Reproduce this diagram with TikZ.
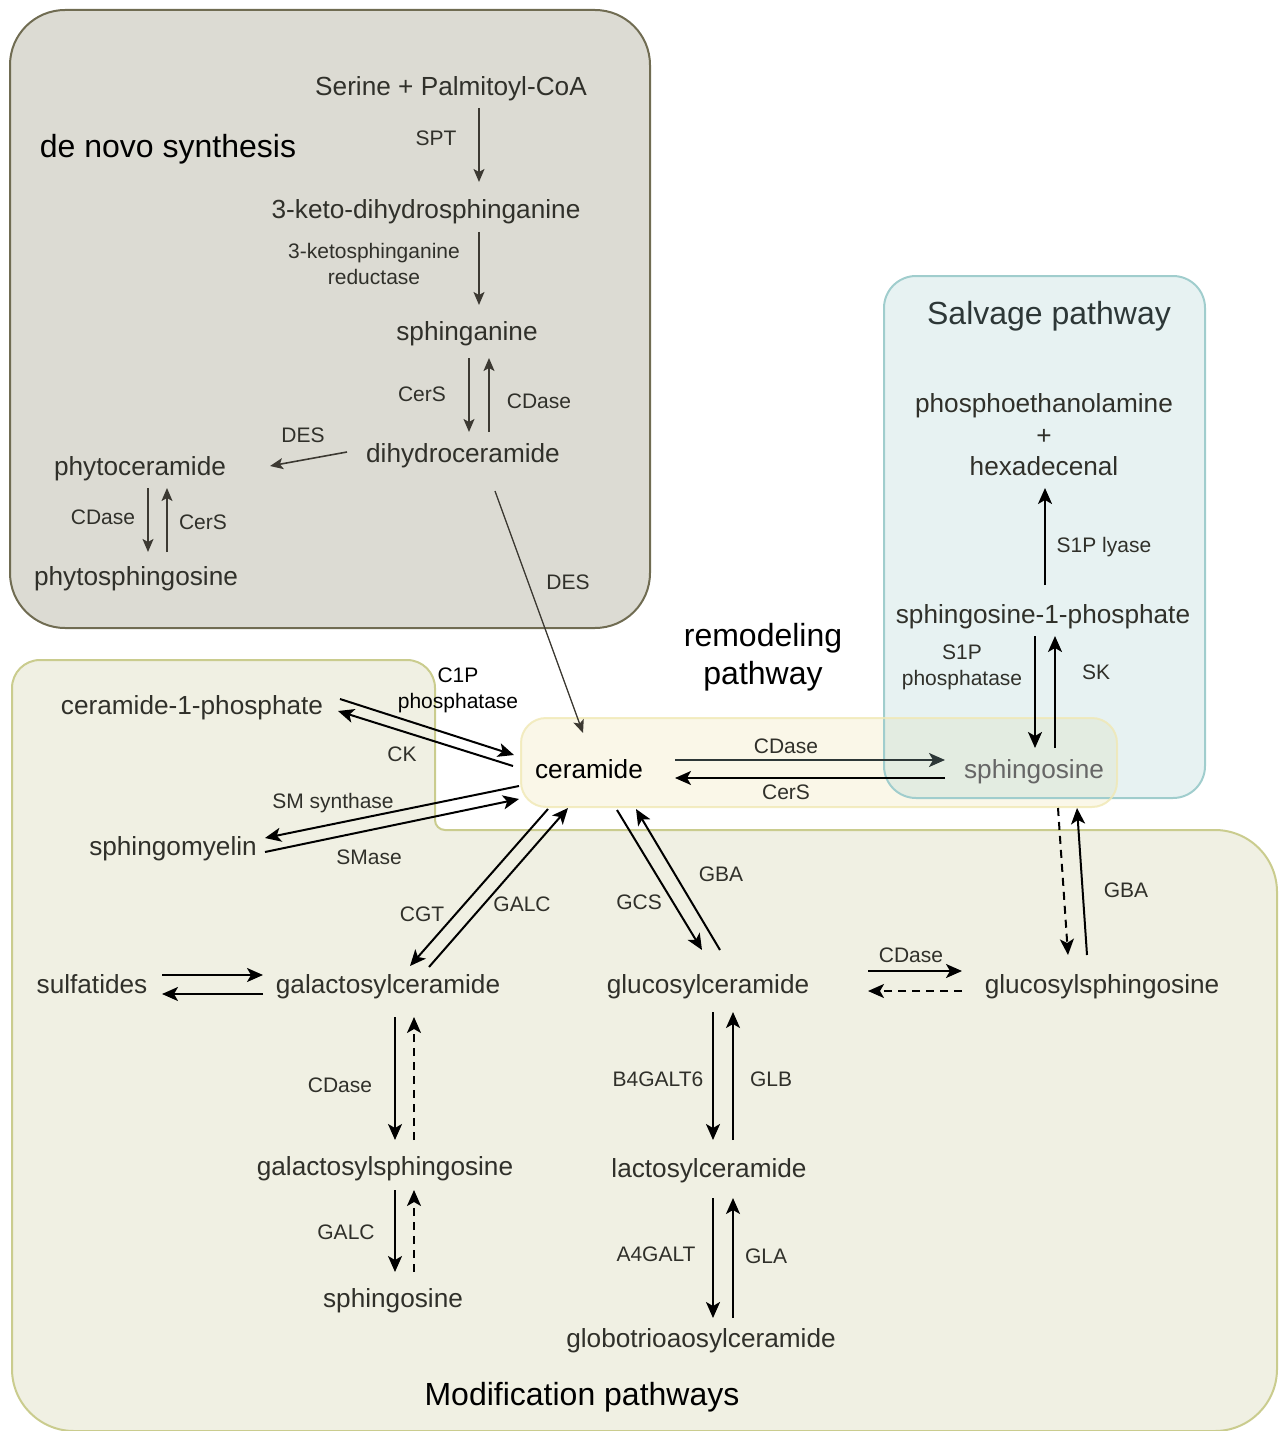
\documentclass[tikz,border=0pt]{standalone}
\usepackage{fontspec}
\setmainfont{Liberation Sans}
\usetikzlibrary{arrows.meta}

\definecolor{novofill}{RGB}{220,219,211}
\definecolor{novoline}{RGB}{112,108,82}
\definecolor{novoink}{RGB}{60,57,50}
\definecolor{modfill}{RGB}{240,240,227}
\definecolor{modline}{RGB}{202,204,142}
\definecolor{salvline}{RGB}{160,205,205}
\definecolor{salvtxt}{RGB}{45,55,55}
\definecolor{cerfill}{RGB}{250,247,232}
\definecolor{cerline}{RGB}{240,232,180}
\definecolor{txt}{RGB}{48,48,42}
\definecolor{faded}{RGB}{102,102,102}

\tikzset{
  molf/.style={font=\fontsize{26.2}{31.5}\selectfont, text=txt, inner sep=0pt},
  mol/.style={molf, text height=19pt, text depth=6pt},
  enz/.style={font=\fontsize{21}{26}\selectfont, text=txt, inner sep=0pt, align=center},
  title/.style={font=\fontsize{32}{38}\selectfont, inner sep=0pt, align=center},
  novobox/.style={fill=novofill, draw=novoline, line width=2pt, rounded corners=55},
  modbox/.style={fill=modfill, draw=modline, line width=2pt},
  salvbox/.style={fill=salvline, fill opacity=0.25, draw=salvline, draw opacity=1, line width=2pt, rounded corners=32},
  arr/.style={->, line width=2pt},
  dsh/.style={arr, dash pattern=on 8pt off 6pt},
  novoarr/.style={->, line width=1.6pt, draw=novoink, >={Stealth[length=13pt,width=11pt,inset=3pt]}},
}

\begin{document}
\begin{tikzpicture}[x=1pt,y=-1pt,>={Stealth[length=16pt,width=14pt,inset=4pt]}]
\useasboundingbox (0,0) rectangle (1278,1431);

% regions
\draw[novobox] (10,10) rectangle (650,628);
\draw[modbox] (640,1431) [rounded corners=62] -- (12,1431) [rounded corners=28] -- (12,660) -- (435,660)
  [rounded corners=10] -- (435,830) [rounded corners=62] -- (1277,830) -- (1277,1431) -- cycle;
\fill[cerfill, rounded corners=25] (521,718) rectangle (1117,807);
\draw[salvbox] (884,276) rectangle (1205,798);
\draw[cerline, draw opacity=0.8, line width=2pt, rounded corners=25] (521,718) rectangle (1117,807);

% titles
\node[title] (tnovo) at (168,149) {de novo synthesis};
\node[title, text=salvtxt] (tsalv) at (1049,316) {Salvage pathway};
\node[title] (tremod) at (763,657) {remodeling\\pathway};
\node[title] (tmod) at (582,1397) {Modification pathways};

% de novo synthesis
\node[mol] (ser) at (451,89) {Serine + Palmitoyl-CoA};
\node[mol] (keto) at (426,212) {3-keto-dihydrosphinganine};
\node[mol] (sphan) at (467,334) {sphinganine};
\node[mol] (dihy) at (463,456) {dihydroceramide};
\node[mol] (phcer) at (140,469) {phytoceramide};
\node[mol] (phsph) at (136,579) {phytosphingosine};

\node[enz] (lSPT) at (436,138) {SPT};
\node[enz] (lKSR) at (374,264) {3-ketosphinganine\\reductase};
\node[enz] (lCerSa) at (422,394) {CerS};
\node[enz] (lCDasea) at (539,401) {CDase};
\node[enz] (lDESa) at (303,435) {DES};
\node[enz] (lCDaseb) at (103,517) {CDase};
\node[enz] (lCerSb) at (203,522) {CerS};
\node[enz] (lDESb) at (568,582) {DES};

% remodeling and salvage
\node[mol, text=black] (cer) at (589,772) {ceramide};
\node[mol, text=faded] (sph) at (1034,772) {sphingosine};
\node[molf, align=center] (ph) at (1044,435) {phosphoethanolamine\\+\\hexadecenal};
\node[mol] (s1p) at (1043,617) {sphingosine-1-phosphate};

\node[enz] (lCDasec) at (786,746) {CDase};
\node[enz] (lCerSc) at (786,792) {CerS};
\node[enz] (lS1PL) at (1104,547) {S1P lyase};
\node[enz] (lS1PP) at (962,667) {S1P\\phosphatase};
\node[enz] (lSK) at (1096,672) {SK};

% modification pathways
\node[mol] (c1p) at (192,708) {ceramide-1-phosphate};
\node[mol] (sm) at (173,849) {sphingomyelin};
\node[mol] (sulf) at (92,987) {sulfatides};
\node[mol] (galcer) at (388,987) {galactosylceramide};
\node[mol] (glucer) at (708,987) {glucosylceramide};
\node[mol] (glcsph) at (1102,987) {glucosylsphingosine};
\node[mol] (galsph) at (385,1169) {galactosylsphingosine};
\node[mol] (sphb) at (393,1301) {sphingosine};
\node[mol] (lac) at (709,1171) {lactosylceramide};
\node[mol] (gbtri) at (701,1341) {globotrioaosylceramide};

\node[enz, text=black] (lC1PP) at (458,690) {C1P\\phosphatase};
\node[enz] (lCK) at (402,754) {CK};
\node[enz] (lSMS) at (333,803) {SM synthase};
\node[enz] (lSMase) at (369,857) {SMase};
\node[enz] (lCGT) at (422,914) {CGT};
\node[enz] (lGALCa) at (522,904) {GALC};
\node[enz] (lGCS) at (639,902) {GCS};
\node[enz] (lGBAa) at (721,874) {GBA};
\node[enz] (lCDased) at (911,955) {CDase};
\node[enz] (lGBAb) at (1126,890) {GBA};
\node[enz] (lCDasee) at (340,1085) {CDase};
\node[enz] (lGALCb) at (346,1232) {GALC};
\node[enz] (lB4) at (658,1079) {B4GALT6};
\node[enz] (lGLB) at (771,1079) {GLB};
\node[enz] (lA4) at (656,1254) {A4GALT};
\node[enz] (lGLA) at (766,1256) {GLA};

% de novo arrows
\draw[novoarr] ([shift={(28,19)}]ser.center) -- ([shift={(53,-30)}]keto.center);
\draw[novoarr] ([shift={(53,20)}]keto.center) -- ([shift={(12,-29)}]sphan.center);
\draw[novoarr] ([shift={(2,24)}]sphan.center) -- ([shift={(6,-24)}]dihy.center);
\draw[novoarr] ([shift={(26,-24)}]dihy.center) -- ([shift={(22,24)}]sphan.center);
\draw[novoarr] ([shift={(-116,-4)}]dihy.center) -- ([shift={(130,-3)}]phcer.center);
\draw[novoarr] ([shift={(8,19)}]phcer.center) -- ([shift={(12,-27)}]phsph.center);
\draw[novoarr] ([shift={(31,-27)}]phsph.center) -- ([shift={(27,19)}]phcer.center);
\draw[novoarr, line width=1.3pt] ([shift={(32,35)}]dihy.center) -- ([shift={(-6,-39)}]cer.center);

% remodeling and salvage arrows
\draw[arr, draw=salvtxt] ([shift={(86,-12)}]cer.center) -- ([shift={(-89,-12)}]sph.center);
\draw[arr] ([shift={(-89,6)}]sph.center) -- ([shift={(86,6)}]cer.center);
\draw[arr] ([shift={(2,-32)}]s1p.center) -- ([shift={(1,53)}]ph.center);
\draw[arr] ([shift={(-8,19)}]s1p.center) -- ([shift={(1,-24)}]sph.center);
\draw[arr] ([shift={(21,-24)}]sph.center) -- ([shift={(12,19)}]s1p.center);

% modification arrows
\draw[arr] ([shift={(148,-9)}]c1p.center) -- ([shift={(-75,-17)}]cer.center);
\draw[arr] ([shift={(-76,-6)}]cer.center) -- ([shift={(146,3)}]c1p.center);
\draw[arr] ([shift={(-70,14)}]cer.center) -- ([shift={(92,-11)}]sm.center);
\draw[arr] ([shift={(92,3)}]sm.center) -- ([shift={(-70,27)}]cer.center);
\draw[arr] ([shift={(-41,37)}]cer.center) -- ([shift={(22,-21)}]galcer.center);
\draw[arr] ([shift={(41,-20)}]galcer.center) -- ([shift={(-21,36)}]cer.center);
\draw[arr] ([shift={(28,38)}]cer.center) -- ([shift={(-6,-37)}]glucer.center);
\draw[arr] ([shift={(12,-37)}]glucer.center) -- ([shift={(47,37)}]cer.center);
\draw[arr] ([shift={(70,-12)}]sulf.center) -- ([shift={(-125,-12)}]galcer.center);
\draw[arr] ([shift={(-125,7)}]galcer.center) -- ([shift={(70,7)}]sulf.center);
\draw[arr] ([shift={(160,-16)}]glucer.center) -- ([shift={(-140,-16)}]glcsph.center);
\draw[dsh] ([shift={(-140,4)}]glcsph.center) -- ([shift={(160,4)}]glucer.center);
\draw[dsh] ([shift={(24,36)}]sph.center) -- ([shift={(-34,-32)}]glcsph.center);
\draw[arr] ([shift={(-15,-32)}]glcsph.center) -- ([shift={(43,36)}]sph.center);
\draw[arr] ([shift={(7,30)}]galcer.center) -- ([shift={(10,-29)}]galsph.center);
\draw[dsh] ([shift={(29,-29)}]galsph.center) -- ([shift={(26,30)}]galcer.center);
\draw[arr] ([shift={(10,21)}]galsph.center) -- ([shift={(2,-29)}]sphb.center);
\draw[dsh] ([shift={(21,-29)}]sphb.center) -- ([shift={(29,21)}]galsph.center);
\draw[arr] ([shift={(5,25)}]glucer.center) -- ([shift={(4,-31)}]lac.center);
\draw[arr] ([shift={(24,-31)}]lac.center) -- ([shift={(25,25)}]glucer.center);
\draw[arr] ([shift={(4,27)}]lac.center) -- ([shift={(12,-23)}]gbtri.center);
\draw[arr] ([shift={(32,-23)}]gbtri.center) -- ([shift={(24,27)}]lac.center);
\end{tikzpicture}
\end{document}
